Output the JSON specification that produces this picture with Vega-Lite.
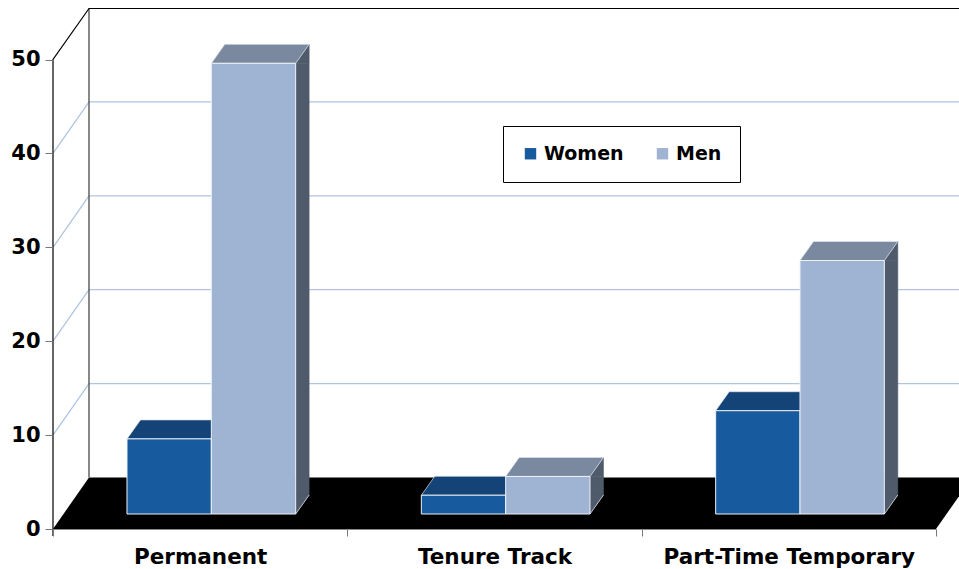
{"$schema":"https://vega.github.io/schema/vega-lite/v6.json","width":883,"height":529,"autosize":{"type":"none"},"padding":{"left":53,"top":0,"right":23,"bottom":40},"background":"white","config":{"view":{"stroke":null},"font":"DejaVu Sans"},"datasets":{"bars":[{"category":"Permanent","series":"Women","value":8},{"category":"Permanent","series":"Men","value":48},{"category":"Tenure Track","series":"Women","value":2},{"category":"Tenure Track","series":"Men","value":4},{"category":"Part-Time Temporary","series":"Women","value":11},{"category":"Part-Time Temporary","series":"Men","value":27}],"grid":[{"category":"Permanent","value":10},{"category":"Permanent","value":20},{"category":"Permanent","value":30},{"category":"Permanent","value":40}],"base":[{"category":"Permanent","value":0}]},"encoding":{"x":{"field":"category","type":"nominal","sort":null,"scale":{"type":"band","domain":["Permanent","Tenure Track","Part-Time Temporary"],"paddingInner":0,"paddingOuter":0},"axis":{"title":null,"tickBand":"extent","labelAngle":0,"labelFontSize":21.5,"labelFontWeight":"bold","labelColor":"black","labelPadding":10,"labelLimit":400,"tickSize":7,"tickColor":"#777777","domainColor":"#888888","labelFont":"DejaVu Sans","zindex":1}},"y":{"field":"value","type":"quantitative","stack":null,"scale":{"domain":[0,56.34],"nice":false,"zero":false},"axis":{"title":null,"values":[0,10,20,30,40,50],"grid":false,"domain":false,"tickSize":8,"tickColor":"#777777","labelFontSize":21,"labelFontWeight":"bold","labelColor":"black","labelPadding":5,"labelFont":"DejaVu Sans","zindex":1}}},"layer":[{"data":{"name":"grid"},"mark":{"type":"point","filled":false,"size":4,"opacity":1,"stroke":"#afc5e1","strokeWidth":1.3,"shape":"M-147.17,0L-111.17,-51.5L758.83,-51.5"}},{"data":{"name":"base"},"mark":{"type":"point","filled":true,"size":4,"opacity":1,"fill":"black","strokeWidth":0,"shape":"M-147.17,0L-111.17,-51.5L772,-51.5L735.83,0Z"}},{"data":{"name":"base"},"mark":{"type":"point","filled":false,"size":4,"opacity":1,"stroke":"#555555","strokeWidth":1.4,"shape":"M-111.17,-51.5L-111.17,-520.5"}},{"data":{"name":"base"},"mark":{"type":"point","filled":false,"size":4,"opacity":1,"stroke":"black","strokeWidth":1.2,"shape":"M-147.17,7L-147.17,-469.6L-111.17,-520.5L758.83,-520.5"}},{"data":{"name":"bars"},"transform":[{"filter":"datum.series === 'Women'"}],"mark":{"type":"point","filled":true,"size":4,"opacity":1,"fill":"#144377","stroke":"#dde5ef","strokeWidth":0.7,"shape":"M-73.17,-15L11.17,-15L24.67,-34L-59.67,-34Z"}},{"data":{"name":"bars"},"transform":[{"filter":"datum.series === 'Men'"}],"mark":{"type":"bar","width":13.5,"xOffset":102.25,"yOffset":-15,"y2Offset":-34,"fill":"#4f5b6b","stroke":"#4f5b6b","strokeWidth":0.5},"encoding":{"y2":{"datum":0}}},{"data":{"name":"bars"},"transform":[{"filter":"datum.series === 'Men'"}],"mark":{"type":"point","filled":true,"size":4,"opacity":1,"fill":"#4f5b6b","stroke":"#4f5b6b","strokeWidth":0.5,"shape":"M95.5,-15L109,-34L109,-15Z"}},{"data":{"name":"bars"},"transform":[{"filter":"datum.series === 'Men'"}],"mark":{"type":"point","filled":true,"size":4,"opacity":1,"fill":"#4f5b6b","stroke":"#4f5b6b","strokeWidth":0.5,"shape":"M95.5,-15L109,-34L95.5,-34Z"},"encoding":{"y":{"datum":0}}},{"data":{"name":"bars"},"transform":[{"filter":"datum.series === 'Men'"}],"mark":{"type":"point","filled":false,"size":4,"opacity":1,"stroke":"#dde5ef","strokeWidth":0.8,"shape":"M95.5,-15L109,-34"},"encoding":{"y":{"datum":0}}},{"data":{"name":"bars"},"transform":[{"filter":"datum.series === 'Men'"}],"mark":{"type":"point","filled":true,"size":4,"opacity":1,"fill":"#7a899f","stroke":"#dde5ef","strokeWidth":0.7,"shape":"M11.17,-15L95.5,-15L109,-34L24.67,-34Z"}},{"data":{"name":"bars"},"mark":{"type":"bar","yOffset":-15,"y2Offset":-15,"stroke":"#eef2f7","strokeWidth":1},"encoding":{"xOffset":{"field":"series","type":"nominal","sort":null,"scale":{"type":"band","domain":["Women","Men"],"range":[74,242.67],"paddingInner":0,"paddingOuter":0}},"y2":{"datum":0},"color":{"field":"series","type":"nominal","sort":null,"scale":{"domain":["Women","Men"],"range":["#175a9e","#9fb4d3"]},"legend":{"title":null,"orient":"none","legendX":450,"legendY":126,"direction":"horizontal","columns":2,"strokeColor":"black","fillColor":"white","padding":18,"symbolType":"square","symbolSize":130,"symbolStrokeWidth":0,"labelFontSize":19,"labelFontWeight":"bold","labelColor":"black","labelFont":"DejaVu Sans","columnPadding":29,"labelOffset":4}}}}]}
